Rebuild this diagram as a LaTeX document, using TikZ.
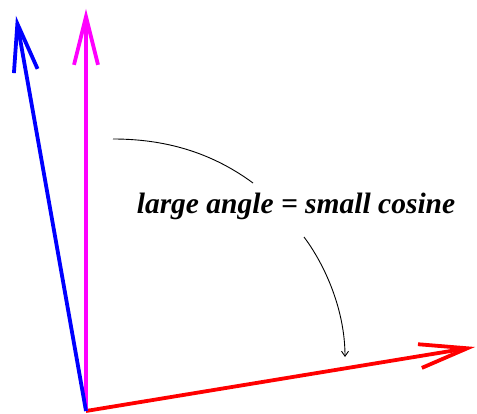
\documentclass[tikz,border=0pt]{standalone}
\usepackage{fontspec}
\setmainfont{Liberation Serif}
\usetikzlibrary{arrows.meta}
\definecolor{vred}{RGB}{255,0,0}
\definecolor{vmag}{RGB}{255,0,255}
\definecolor{vblue}{RGB}{0,0,255}
\tikzset{vec/.style={line width=3.8pt,-{Straight Barb[length=48pt,width=24pt,line width=3.8pt]}},
  note/.style={line width=0.9pt}}
\begin{document}
\begin{tikzpicture}[x=1pt,y=-1pt]
    \useasboundingbox (0,0) rectangle (477,414);
    \coordinate (O) at (86,411);
    \coordinate (red) at (475,347);
    \coordinate (mag) at (86,9);
    \coordinate (blue) at (16,16);
    \draw[vec,vred] (O) -- (red);
    \draw[vec,vmag] (O) -- (mag);
    \draw[vec,vblue] (O) -- (blue);
    \node (lbl) at (296,206) {\fontsize{29.5}{32}\selectfont\bfseries\itshape large angle = small cosine};
    \coordinate (from) at (113,139);
    \coordinate (in) at (253,183);
    \coordinate (out) at (304,237);
    \coordinate (to) at (345,357);
    \draw[note] (from) .. controls (170,139) and (215,155) .. (in);
    \draw[note,-{Straight Barb[length=5pt,width=7pt]}] (out) .. controls (325,265) and (345,310) .. (to);
  \end{tikzpicture}
\end{document}
